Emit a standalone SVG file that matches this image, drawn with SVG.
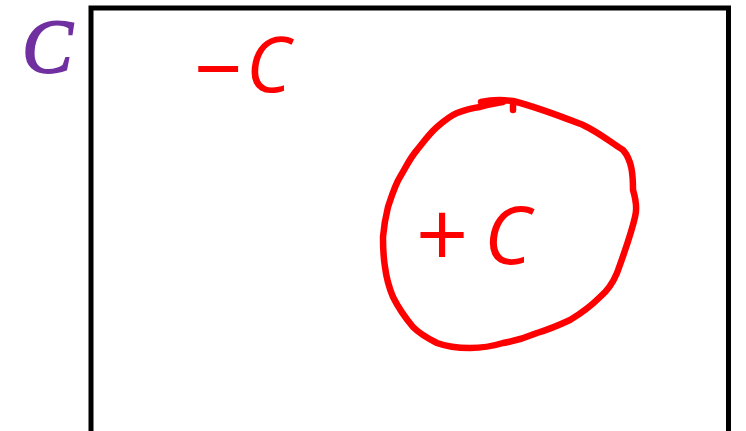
<svg xmlns="http://www.w3.org/2000/svg" width="746" height="431" viewBox="0 0 746 431">
<style>
.ink{fill:none;stroke:#ff0000;stroke-width:6.5;stroke-linecap:round;stroke-linejoin:round}
.hand{fill:#ff0000;font-family:"Open Sans","DejaVu Sans",sans-serif;font-style:italic;font-weight:normal}
</style>
<rect width="746" height="431" fill="#ffffff"/>
<g id="frame">
<rect x="91" y="8" width="637.5" height="440" fill="none" stroke="#000000" stroke-width="5"/>
</g>
<g id="label-C">
<text x="22" y="72" font-family="'Liberation Serif',serif" font-style="italic" font-weight="normal" font-size="76" fill="#7030a0" stroke="#7030a0" stroke-width="1.8">C</text>
</g>
<g id="minus-C">
<text class="hand"><tspan x="193" y="100" font-size="88">−</tspan><tspan x="246" y="92" font-size="76">C</tspan></text>
</g>
<g id="region">
<path class="ink" d="M481,102 C495,99 505,100 513,101 L513,110 M513,101 C540,108 565,118 583,125 C600,133 610,142 623,150 C632,160 633,175 633,190 C636,200 637,210 635,217 C632,230 628,243 617,273 C612,285 606,292 600,297 C590,307 580,314 570,320 C555,327 547,330 537,333 C525,338 515,341 503,343 C490,347 480,348 470,348 C455,348 445,346 437,343 C425,337 418,332 413,327 C403,315 397,305 393,297 C388,285 386,275 385,267 C383,255 383,245 383,237 C384,225 386,215 388,207 C392,195 395,185 400,177 C406,167 410,158 417,150 C425,140 430,133 437,127 C445,120 450,116 457,113 C465,110 472,108 480,107 C490,104 497,103 503,102"/>
<text class="hand"><tspan x="414" y="267" font-size="92">+</tspan><tspan x="484" y="264" font-size="80">C</tspan></text>
</g>
</svg>
